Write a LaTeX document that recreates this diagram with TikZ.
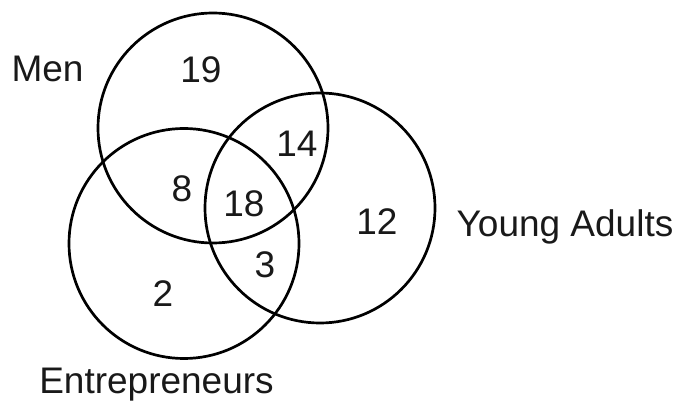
\documentclass[tikz,border=0pt]{standalone}
\usepackage{fontspec}
\setmainfont{Liberation Sans}
\begin{document}
\begin{tikzpicture}[x=1pt,y=-1pt,
  setcircle/.style={circle, draw=black, line width=2.7pt, minimum size=230pt, inner sep=0pt},
  lbl/.style={inner sep=0pt, anchor=base, font=\fontsize{37}{40}\selectfont, text=black!90}]
\useasboundingbox (0,0) rectangle (681,401);
\node[setcircle] (men) at (213,128) {};
\node[setcircle] (ent) at (184,243.5) {};
\node[setcircle] (ya) at (320,208) {};
\node[lbl] (lmen) at (47.5,82) {Men};
\node[lbl] (lya) at (565,237) {Young Adults};
\node[lbl] (lent) at (156.5,393) {Entrepreneurs};
\node[lbl] (n19) at (201,83) {19};
\node[lbl] (n14) at (297,157) {14};
\node[lbl] (n8) at (182,202) {8};
\node[lbl] (n18) at (244,217) {18};
\node[lbl] (n12) at (377,235) {12};
\node[lbl] (n3) at (265,277) {3};
\node[lbl] (n2) at (163,306) {2};
\end{tikzpicture}
\end{document}
